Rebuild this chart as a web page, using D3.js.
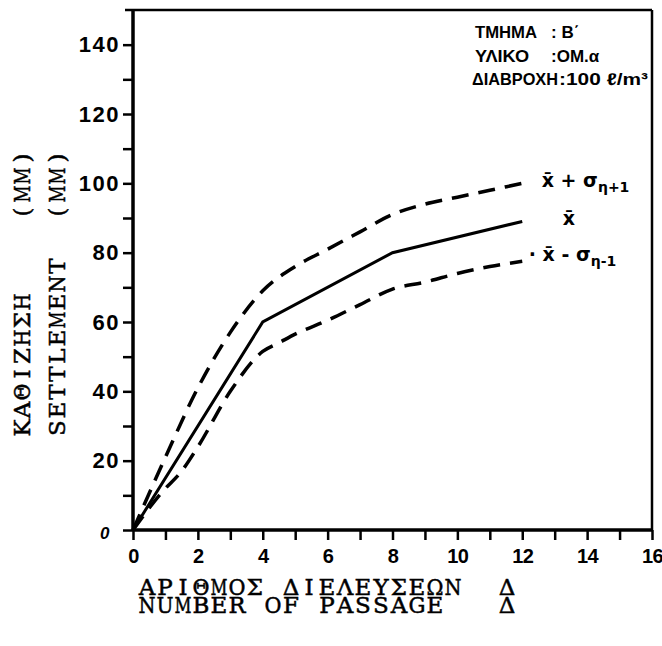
<!DOCTYPE html>
<html>
<head>
<meta charset="utf-8">
<script src="https://cdn.jsdelivr.net/npm/d3@7"></script>
<style>
  body { margin: 0; background: #fff; }
  svg { display: block; }
</style>
</head>
<body>
<div id="chart"></div>
<script>
// passes (x) and settlement in mm (y)
var meanX = [0, 4, 8, 12];
var meanY = [0, 60, 80, 89];

var upperX = [0, 1, 2, 3, 4, 5, 6, 7, 8, 9, 10, 11, 12];
var upperY = [0, 21, 41, 57, 69, 76, 81, 86, 91, 94, 96, 98, 100];

var lowerX = [0, 0.9, 1.5, 2, 3, 4, 4.5, 5, 6, 7, 8, 9, 10, 11, 12];
var lowerY = [0, 11, 17, 24, 40, 51.5, 54, 56.5, 60.5, 65, 69.5, 71.5, 74, 76, 77.5];

var xTicks = [0, 1, 2, 3, 4, 5, 6, 7, 8, 9, 10, 11, 12, 13, 14, 15, 16];
var yTicks = [0, 10, 20, 30, 40, 50, 60, 70, 80, 90, 100, 110, 120, 130, 140];

var infoLines = [["ΤΜΗΜΑ", ": Β΄"], ["ΥΛΙΚΟ", ":ΟΜ.α"], ["ΔΙΑΒΡΟΧΗ", ":100 ℓ/m³"]];
var yTitle = ["ΚΑΘΙΖΗΣΗ    (ΜΜ)", "SETTLEMENT  (MM)"];
var xTitle = ["ΑΡΙΘΜΟΣ ΔΙΕΛΕΥΣΕΩΝ  Δ", "NUMBER OF PASSAGE   Δ"];

var margin = { top: 10, right: 10, bottom: 116, left: 133 };
var W = 662, H = 646;
var w = W - margin.left - margin.right;
var h = H - margin.top - margin.bottom;

var svg = d3.select("#chart").append("svg").attr("width", W).attr("height", H);
var g = svg.append("g").attr("transform", "translate(" + margin.left + "," + margin.top + ")");

var x = d3.scaleLinear().domain([0, 16]).range([0, w]);
var y = d3.scaleLinear().domain([0, 150]).range([h, 0]);

// frame (top + right), axes drawn heavier below
g.append("line").attr("x1", -8).attr("x2", w).attr("y1", 0).attr("y2", 0)
    .attr("stroke", "#000").attr("stroke-width", 2.5);
g.append("line").attr("x1", w).attr("x2", w).attr("y1", 0).attr("y2", h)
    .attr("stroke", "#000").attr("stroke-width", 2.5);

var xAxis = g.append("g").attr("transform", "translate(0," + h + ")")
    .call(d3.axisBottom(x).tickValues(xTicks).tickSize(10).tickPadding(9)
        .tickFormat(function (d) { return d % 2 === 0 ? d : ""; }));
var yAxis = g.append("g")
    .call(d3.axisLeft(y).tickValues(yTicks).tickSize(10).tickPadding(3)
        .tickFormat(function (d) { return (d % 20 === 0 && d > 0) ? d : ""; }));

[xAxis, yAxis].forEach(function (a) {
    a.select(".domain").attr("stroke-width", 3.5);
    a.selectAll(".tick line").attr("stroke-width", 2.5);
    a.selectAll("text").attr("font-family", "Liberation Sans, Arial, sans-serif")
        .attr("font-weight", "bold").attr("fill", "#000");
});
xAxis.selectAll("text").attr("font-size", "20px").attr("letter-spacing", "-0.5px");
yAxis.selectAll("text").attr("font-size", "22px").attr("letter-spacing", "1.5px");
xAxis.select(".domain").attr("d", "M0,0H" + w);
yAxis.select(".domain").attr("d", "M0,0V" + h);

// the lone italic zero on the y side
g.append("text").attr("x", -33).attr("y", y(0) + 9)
    .attr("font-family", "Liberation Sans, Arial, sans-serif")
    .attr("font-weight", "bold").attr("font-style", "italic").attr("font-size", "17px")
    .text("0");

var line = d3.line().x(function (d) { return x(d[0]); }).y(function (d) { return y(d[1]); });

function pairs(xs, ys) {
    return xs.map(function (v, i) { return [v, ys[i]]; });
}

g.append("path").datum(pairs(upperX, upperY)).attr("d", line.curve(d3.curveMonotoneX))
    .attr("fill", "none").attr("stroke", "#000").attr("stroke-width", 3.5)
    .attr("stroke-dasharray", "17,10");
g.append("path").datum(pairs(lowerX, lowerY)).attr("d", line.curve(d3.curveMonotoneX))
    .attr("fill", "none").attr("stroke", "#000").attr("stroke-width", 3.5)
    .attr("stroke-dasharray", "17,10");
g.append("path").datum(pairs(meanX, meanY)).attr("d", line.curve(d3.curveLinear))
    .attr("fill", "none").attr("stroke", "#000").attr("stroke-width", 3);

// curve labels
var lab = g.append("g").attr("font-family", "DejaVu Sans, sans-serif")
    .attr("font-weight", "bold").attr("fill", "#000");

var t1 = lab.append("text").attr("x", x(12.6)).attr("y", y(99)).attr("font-size", "19px");
t1.append("tspan").text("x\u0304");
t1.append("tspan").text(" + σ");
t1.append("tspan").attr("font-size", "14px").attr("dy", 5).text("η+1");

lab.append("text").attr("x", x(13.25)).attr("y", y(88)).attr("font-size", "19px").text("x\u0304");

var t3 = lab.append("text").attr("x", x(12.2)).attr("y", y(77.5)).attr("font-size", "19px");
t3.append("tspan").text("· x\u0304");
t3.append("tspan").text(" - σ");
t3.append("tspan").attr("font-size", "14px").attr("dy", 5).text("η-1");

// info block, top right
var info = svg.append("g").attr("font-family", "Liberation Sans, Arial, sans-serif")
    .attr("font-weight", "bold").attr("font-size", "17px");
var infoW = [62, 54, 86];
infoLines.forEach(function (r, i) {
    var yy = 38 + i * 23.5;
    info.append("text").attr("x", i === 2 ? 472 : 475).attr("y", yy)
        .attr("textLength", infoW[i]).attr("lengthAdjust", "spacingAndGlyphs").text(r[0]);
    var t = info.append("text").attr("x", i === 2 ? 559 : 551).attr("y", yy)
        .style("white-space", "pre").text(r[1]);
    if (i === 2) t.attr("textLength", 89).attr("lengthAdjust", "spacingAndGlyphs");
});

// typewriter axis titles: every character in its own fixed-width cell
var cell = 18;
function typeLine(parent, str, x0, y0, rot) {
    var chars = str.split("").map(function (c, i) { return { c: c, i: i }; })
        .filter(function (d) { return d.c !== " "; });
    var tg = parent.append("g")
        .attr("transform", "translate(" + x0 + "," + y0 + ")" + (rot ? " rotate(-90)" : ""));
    tg.selectAll("text").data(chars).enter().append("text")
        .attr("x", function (d) { return d.i * cell + cell / 2; })
        .attr("text-anchor", "middle")
        .attr("font-family", "DejaVu Serif, serif")
        .attr("font-size", "23px").attr("fill", "#000")
        .attr("stroke", "#000").attr("stroke-width", 0.5)
        .text(function (d) { return d.c; })
        .each(function () {
            // keep wide letters (M, Ω ...) inside their cell
            if (this.getComputedTextLength() > cell - 1) {
                d3.select(this).attr("textLength", cell - 1).attr("lengthAdjust", "spacingAndGlyphs");
            }
        });
}
yTitle.forEach(function (s, i) {
    typeLine(svg, s, 30 + i * 35, 437, true);
});
xTitle.forEach(function (s, i) {
    typeLine(svg, s, 138, 595 + i * 18, false);
});
</script>
</body>
</html>
